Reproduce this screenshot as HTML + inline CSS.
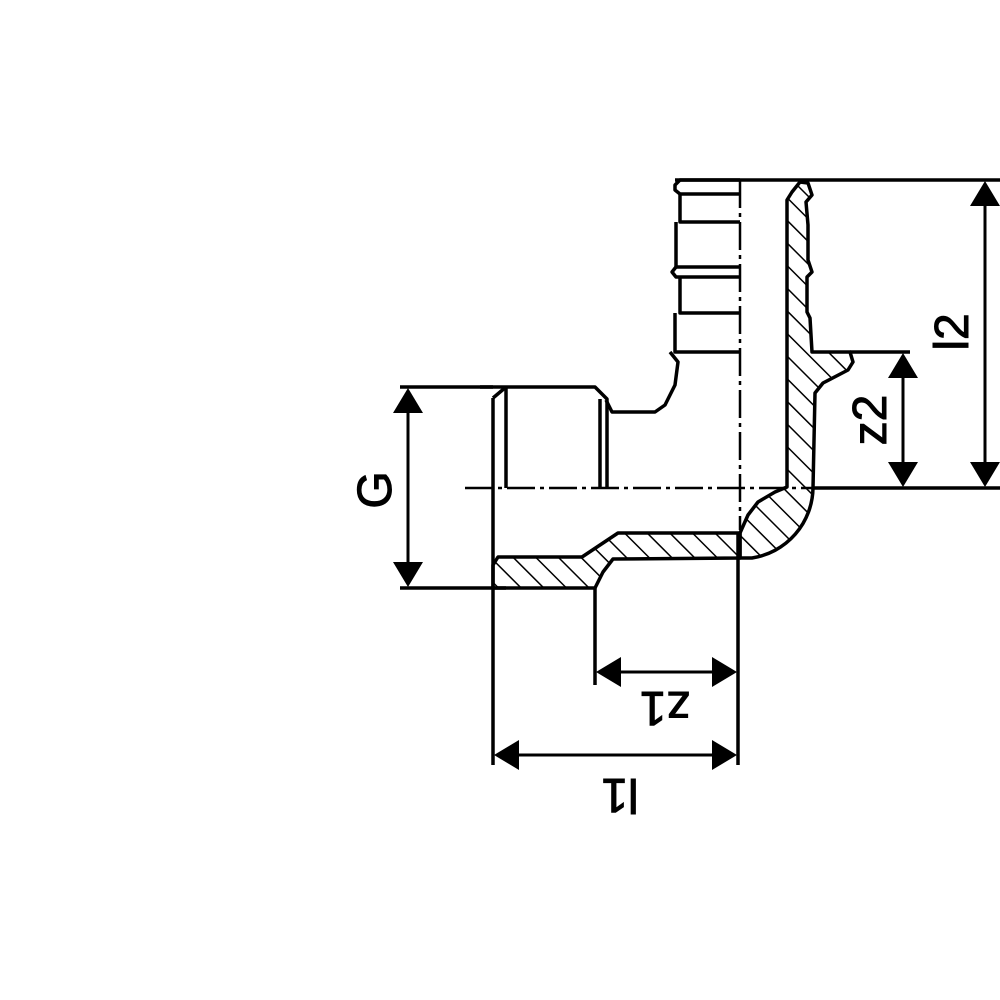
<!DOCTYPE html>
<html><head><meta charset="utf-8"><style>html,body{margin:0;padding:0;background:#fff}svg{display:block}</style></head>
<body>
<svg width="1000" height="1000" viewBox="0 0 1000 1000" xmlns="http://www.w3.org/2000/svg">
<defs>
<pattern id="h" patternUnits="userSpaceOnUse" width="16" height="16" patternTransform="rotate(-45)">
<line x1="0" y1="0" x2="0" y2="16" stroke="#000" stroke-width="3"/>
</pattern>
</defs>
<rect width="1000" height="1000" fill="#fff"/>
<g stroke="#000" stroke-width="3.5" fill="none" stroke-linejoin="round">
<path fill="url(#h)" d="M787,487 L787,200 L792,192 L800,182 L808,183 L812,195 L806,202 L808,225 L808,260 L812,272 L807,277 L807,312 L810,318 L812,352 L850,352 L853,362 L848,370 L823,383 L815,393 L813,488 A72,72 0 0 1 752,558 L740,558 L740,533 L748,515 L758,502 L775,492 Z"/>
<path fill="url(#h)" d="M740,533 L618,533 L582,557 L498,557 L493,565 L493,588 L595,588 L603,572 L613,559 L740,558 Z"/>
<line x1="675" y1="180" x2="1000" y2="180"/>
<path d="M740,180 L680,180 L675,185 L675,190 L680,194 L740,194"/>
<path d="M680,194 L680,222 L740,222"/>
<path d="M676,222 L676,267 L740,267"/>
<path d="M676,267 L672,272 L676,277 L740,277"/>
<path d="M680,277 L680,313 L740,313"/>
<path d="M675,313 L675,352 L740,352"/>
<path d="M670,352 L678,362 L675,385 L670,395 L665,405 L655,412 L612,412 L606,400"/>
<path d="M480,387 L595,387 L607,399 L607,488"/>
<line x1="600" y1="399" x2="600" y2="488"/>
<line x1="506" y1="387" x2="506" y2="488"/>
<line x1="493" y1="398" x2="506" y2="387"/>
<line x1="493" y1="398" x2="493" y2="765"/>
<line x1="400" y1="387" x2="493" y2="387"/>
<line x1="400" y1="588" x2="506" y2="588"/>
<line x1="738" y1="533" x2="738" y2="765"/>
<line x1="595" y1="588" x2="595" y2="685"/>
<line x1="813" y1="488" x2="1000" y2="488"/>
<line x1="850" y1="352" x2="910" y2="352"/>
<line x1="408" y1="395" x2="408" y2="580" stroke-width="3"/>
<line x1="985" y1="188" x2="985" y2="480" stroke-width="3"/>
<line x1="903" y1="360" x2="903" y2="480" stroke-width="3"/>
<line x1="500" y1="755" x2="730" y2="755" stroke-width="3"/>
<line x1="602" y1="672" x2="730" y2="672" stroke-width="3"/>
</g>
<g stroke="#000" stroke-width="2.5" stroke-dasharray="28,5,4,5">
<line x1="740" y1="180" x2="740" y2="530"/>
<line x1="465" y1="488" x2="812" y2="488"/>
</g>
<g fill="#000">
<polygon points="408,388 393,413 423,413"/>
<polygon points="408,587 393,562 423,562"/>
<polygon points="985,181 970,206 1000,206"/>
<polygon points="985,487 970,462 1000,462"/>
<polygon points="903,353 888,378 918,378"/>
<polygon points="903,487 888,462 918,462"/>
<polygon points="494,755 519,740 519,770"/>
<polygon points="737,755 712,740 712,770"/>
<polygon points="596,672 621,657 621,687"/>
<polygon points="737,672 712,657 712,687"/>
</g>
<g font-family="Liberation Sans, sans-serif" font-size="48" fill="#000" text-anchor="middle" stroke="#000" stroke-width="1">
<text transform="translate(391,490) rotate(-90)">G</text>
<text transform="translate(968,332) rotate(-90)">l2</text>
<text transform="translate(886,420) rotate(-90)">z2</text>
<text transform="translate(665,692) rotate(180)">z1</text>
<text transform="translate(620,779) rotate(180)">l1</text>
</g>
</svg>
</body></html>
